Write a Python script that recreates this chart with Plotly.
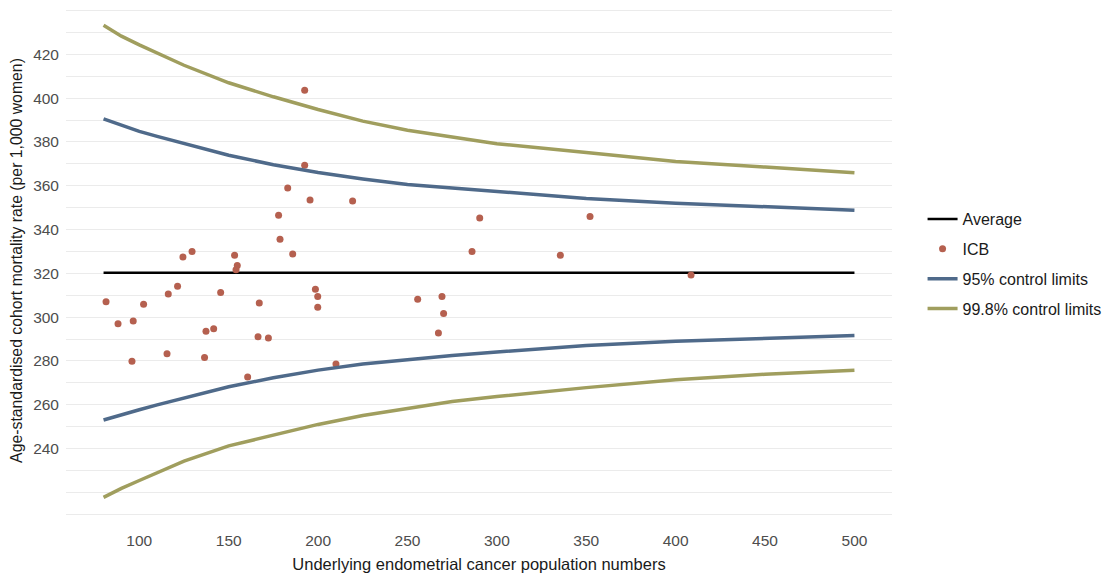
import plotly.graph_objects as go

# ---- data ----
limit_n = [80, 90, 100, 110, 125, 150, 175, 200, 225, 250, 275, 300, 350, 400, 450, 500]
upper_95 = [390.5, 387.5, 384.8, 382.5, 379.3, 373.9, 369.6, 366.0, 363.1, 360.6, 359.0, 357.4, 354.2, 352.0, 350.2, 348.8]
lower_95 = [253.0, 255.5, 257.7, 259.9, 263.0, 268.2, 272.3, 275.8, 278.6, 280.6, 282.5, 284.1, 287.0, 289.0, 290.4, 291.6]
upper_998 = [433.3, 428.3, 424.3, 420.6, 415.0, 407.0, 400.6, 394.8, 389.5, 385.3, 382.3, 379.2, 375.2, 371.1, 368.5, 365.9]
lower_998 = [217.7, 221.8, 225.4, 228.9, 234.2, 241.2, 245.9, 251.0, 255.1, 258.4, 261.5, 263.7, 267.8, 271.4, 273.9, 275.7]

avg_n = [80, 500]
avg_rate = [320.3, 320.3]

icb_n = [81.4, 88.1, 95.9, 96.6, 102.4, 115.5, 116.2, 121.4, 124.4, 129.5,
         136.5, 137.3, 141.6, 145.5, 153.3, 154.8, 154.1, 160.6, 166.4, 167.1,
         172.2, 178.7, 185.8, 192.5, 192.5, 183.0, 195.5, 219.3, 177.9, 290.4,
         286.1, 352.1, 335.5, 408.6, 198.5, 199.8, 199.8, 255.7, 269.3, 270.2,
         267.3, 210.0]
icb_rate = [307.0, 297.0, 279.8, 298.2, 305.9, 283.3, 310.6, 314.1, 327.5, 330.0,
            281.6, 293.5, 294.7, 311.2, 328.2, 323.6, 321.6, 272.7, 291.0, 306.4,
            290.5, 335.5, 328.8, 403.6, 369.4, 358.9, 353.5, 353.0, 346.5, 345.3,
            330.0, 345.9, 328.2, 319.2, 312.7, 309.4, 304.5, 308.2, 309.4, 301.6,
            292.7, 278.6]

x_ticks = [100, 150, 200, 250, 300, 350, 400, 450, 500]
y_ticks = [240, 260, 280, 300, 320, 340, 360, 380, 400, 420]

BLUE = "#4F6A8A"
OLIVE = "#A09E5E"
RED = "#B5604F"
GRID = "#EBEBEB"
FONT = "Liberation Sans, Arial, sans-serif"

fig = go.Figure()

fig.add_trace(go.Scatter(x=avg_n, y=avg_rate, mode="lines", name="Average",
                         line=dict(color="black", width=2.5), legendgroup="a"))
fig.add_trace(go.Scatter(x=icb_n, y=icb_rate, mode="markers", name="ICB",
                         marker=dict(color=RED, size=7), legendgroup="b"))
fig.add_trace(go.Scatter(x=limit_n, y=upper_95, mode="lines", name="95% control limits",
                         line=dict(color=BLUE, width=3.5), legendgroup="c"))
fig.add_trace(go.Scatter(x=limit_n, y=lower_95, mode="lines", name="95% control limits",
                         line=dict(color=BLUE, width=3.5), legendgroup="c", showlegend=False))
fig.add_trace(go.Scatter(x=limit_n, y=upper_998, mode="lines", name="99.8% control limits",
                         line=dict(color=OLIVE, width=3.5), legendgroup="d"))
fig.add_trace(go.Scatter(x=limit_n, y=lower_998, mode="lines", name="99.8% control limits",
                         line=dict(color=OLIVE, width=3.5), legendgroup="d", showlegend=False))

fig.update_layout(
    width=1103, height=575,
    margin=dict(l=66, r=211, t=0, b=54, autoexpand=False),
    paper_bgcolor="white", plot_bgcolor="white",
    font=dict(family=FONT, size=15, color="#4D4D4D"),
    legend=dict(x=1.037, xanchor="left", y=0.493, yanchor="middle",
                traceorder="grouped", tracegroupgap=6,
                font=dict(family=FONT, size=16, color="#1A1A1A"),
                bgcolor="rgba(0,0,0,0)"),
    showlegend=True,
)

fig.update_xaxes(range=[59, 521], tickvals=x_ticks, showgrid=False, zeroline=False,
                 showline=False, ticks="", ticklabelstandoff=8,
                 tickfont=dict(size=15.5, color="#4D4D4D"),
                 title=dict(text="Underlying endometrial cancer population numbers",
                            font=dict(size=16.5, color="#1A1A1A"), standoff=10))
fig.update_yaxes(range=[206.9, 444.8], tickvals=y_ticks, showgrid=True, gridcolor=GRID,
                 gridwidth=1.2, zeroline=False, showline=False, ticks="", ticklabelstandoff=6,
                 tickfont=dict(size=15.5, color="#4D4D4D"),
                 minor=dict(tickmode="linear", tick0=0, dtick=10, showgrid=True,
                            gridcolor=GRID, gridwidth=1.2),
                 title=dict(text="Age-standardised cohort mortality rate (per 1,000 women)",
                            font=dict(size=15.8, color="#1A1A1A"), standoff=6))

fig.write_html("out.html")
